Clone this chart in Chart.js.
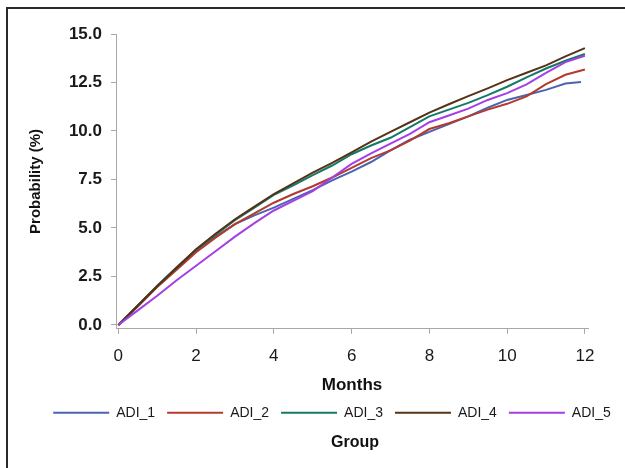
<!DOCTYPE html>
<html>
<head>
<meta charset="utf-8">
<script src="https://cdn.jsdelivr.net/npm/chart.js@4.4.1/dist/chart.umd.min.js"></script>
<style>
html,body{margin:0;padding:0;background:#fff;overflow:hidden;}
#wrap{position:relative;width:625px;height:468px;overflow:hidden;}
#frame{position:absolute;left:6px;top:7px;width:700px;height:600px;border:2px solid #2a2a2a;box-sizing:border-box;pointer-events:none;}
#c{position:absolute;left:0;top:0;}
</style>
</head>
<body>
<div id="wrap"><canvas id="c" width="625" height="468"></canvas><div id="frame"></div></div>
<script>
// ---- data ----
const months = [0,0.5,1,1.5,2,2.5,3,3.5,4,4.5,5,5.5,6,6.5,7,7.5,8,8.5,9,9.5,10,10.5,11,11.5,12];
const groupNames = ['ADI_1','ADI_2','ADI_3','ADI_4','ADI_5'];
const ADI_1 = [0,0.98,1.98,2.9,3.8,4.55,5.2,5.65,6.05,6.5,6.95,7.45,7.9,8.4,9.0,9.55,9.95,10.35,10.75,11.2,11.6,11.85,12.12,12.45,12.52];
const ADI_1_LAST_MONTH = 11.9;
const ADI_2 = [0,0.95,1.95,2.85,3.75,4.5,5.2,5.75,6.3,6.75,7.15,7.6,8.1,8.6,9.0,9.5,10.1,10.4,10.75,11.1,11.4,11.78,12.42,12.9,13.17];
const ADI_3 = [0,1.0,2.02,2.97,3.88,4.65,5.4,6.05,6.7,7.2,7.72,8.22,8.8,9.25,9.65,10.2,10.75,11.1,11.45,11.85,12.28,12.76,13.22,13.62,13.97];
const ADI_4 = [0,1.0,2.0,2.95,3.9,4.7,5.45,6.1,6.75,7.3,7.85,8.35,8.9,9.45,9.95,10.45,10.95,11.38,11.8,12.2,12.62,13.0,13.38,13.85,14.27];
const ADI_5 = [0,0.75,1.5,2.3,3.05,3.8,4.55,5.25,5.9,6.4,6.9,7.6,8.3,8.85,9.35,9.85,10.45,10.8,11.15,11.6,11.95,12.4,13.0,13.55,13.88];
const xTickValues = [0,2,4,6,8,10,12];
const yTickValues = [0,2.5,5,7.5,10,12.5,15];

const seriesValues = [ADI_1, ADI_2, ADI_3, ADI_4, ADI_5];
const colors = ['#4a64ae','#b23a2f','#137a68','#563216','#a43fe6'];
const FONT = "'Liberation Sans', Arial, Helvetica, sans-serif";
const LEGEND_CENTER_X = 332;
const GROUP_CENTER_X = 355;

const datasets = seriesValues.map((vals, i) => ({
  label: groupNames[i],
  data: vals.map((v, j) => ({x: (i === 0 && j === vals.length - 1) ? ADI_1_LAST_MONTH : months[j], y: v})),
  borderColor: colors[i],
  backgroundColor: colors[i],
  borderWidth: 2,
  pointRadius: 0,
  pointStyle: 'line',
  tension: 0,
  fill: false,
  order: 5 - i
}));

const shiftBoxes = {
  id: 'shiftBoxes',
  afterLayout(chart) {
    const L = chart.legend;
    if (L) { const d = LEGEND_CENTER_X - (L.left + L.right) / 2; L.left += d; L.right += d; }
    const T = chart.titleBlock;
    if (T) { const d = GROUP_CENTER_X - (T.left + T.right) / 2; T.left += d; T.right += d; }
  }
};

new Chart(document.getElementById('c'), {
  type: 'line',
  data: { datasets },
  plugins: [shiftBoxes],
  options: {
    responsive: false,
    animation: false,
    devicePixelRatio: 1,
    layout: { padding: { left: 0, right: 37, top: 34, bottom: 0 } },
    scales: {
      x: {
        type: 'linear',
        min: -0.06, max: 12.08,
        afterBuildTicks: s => { s.ticks = xTickValues.map(v => ({value: v})); },
        afterFit: s => { s.height = 65; },
        ticks: { font: { family: FONT, size: 17 }, color: '#1a1a1a', padding: 12, maxRotation: 0,
                 callback: v => String(v) },
        grid: { drawOnChartArea: false, drawTicks: true, tickLength: 5, color: '#a8a8a8' },
        border: { color: '#a8a8a8', width: 1 },
        title: { display: true, text: 'Months', color: '#111',
                 font: { family: FONT, size: 17, weight: 'bold' }, padding: { top: 4, bottom: -2 } }
      },
      y: {
        type: 'linear',
        min: -0.2, max: 15,
        afterBuildTicks: s => { s.ticks = yTickValues.map(v => ({value: v})); },
        afterFit: s => { s.width = 116; },
        ticks: { font: { family: FONT, size: 17, weight: 'bold' }, color: '#1a1a1a', padding: 9,
                 callback: v => Number(v).toFixed(1) },
        grid: { drawOnChartArea: false, drawTicks: true, tickLength: 5, color: '#a8a8a8' },
        border: { color: '#a8a8a8', width: 1 },
        title: { display: true, text: 'Probability (%)', color: '#111',
                 font: { family: FONT, size: 15, weight: 'bold' }, padding: { top: 27, bottom: 4 } }
      }
    },
    plugins: {
      legend: {
        position: 'bottom',
        labels: {
          usePointStyle: true, pointStyle: 'line', pointStyleWidth: 56,
          font: { family: FONT, size: 14 }, color: '#1a1a1a', padding: 12,
          sort: (a, b) => a.datasetIndex - b.datasetIndex
        }
      },
      title: {
        display: true, position: 'bottom', text: 'Group', color: '#111',
        font: { family: FONT, size: 16, weight: 'bold' }, padding: { top: 3, bottom: 16 }
      },
      tooltip: { enabled: false }
    }
  }
});
</script>
</body>
</html>
